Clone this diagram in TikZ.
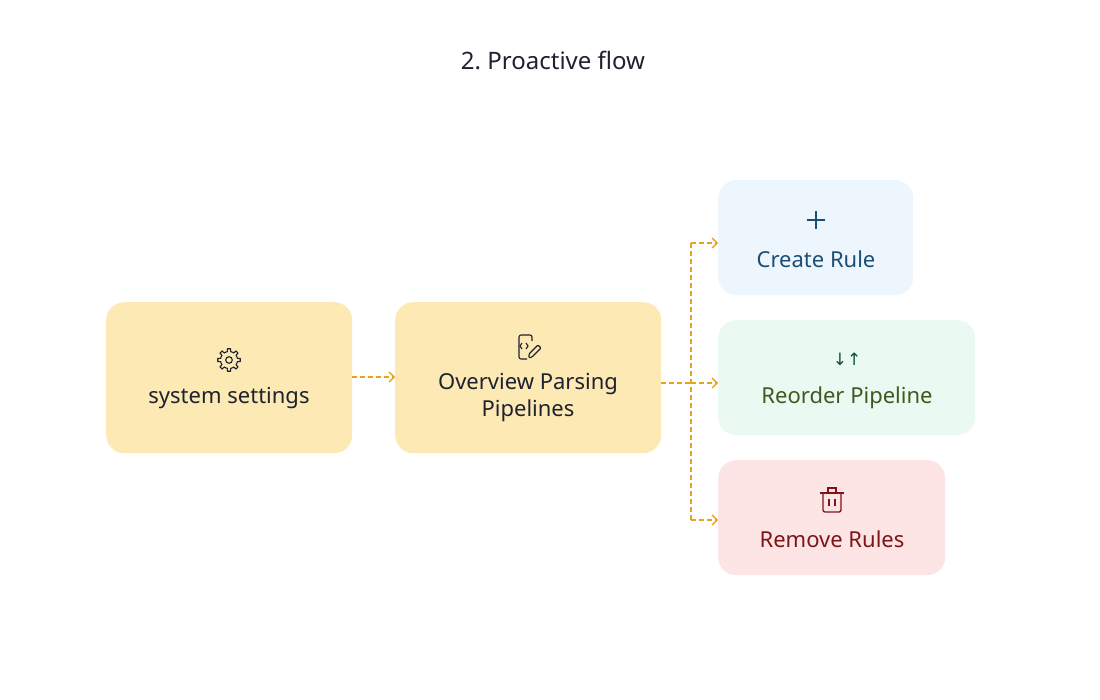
\documentclass[tikz,border=0pt]{standalone}
\usepackage{fontspec}
\setmainfont{Noto Sans}
\newfontfamily\symf{DejaVu Sans}
\usetikzlibrary{arrows.meta}
\definecolor{yel}{HTML}{FDE9B3}
\definecolor{bluef}{HTML}{EEF6FD}
\definecolor{bluet}{HTML}{1B4F72}
\definecolor{greenf}{HTML}{EAF9F1}
\definecolor{greent}{HTML}{3D5A1F}
\definecolor{greeni}{HTML}{0F5132}
\definecolor{redf}{HTML}{FDE4E5}
\definecolor{redt}{HTML}{7F1416}
\definecolor{org}{HTML}{E8A317}
\definecolor{ink}{HTML}{1E2230}
\begin{document}
\begin{tikzpicture}[x=1pt,y=-1pt,
  box/.style={rounded corners=18pt,inner sep=0pt,anchor=north west},
  lbl/.style={font=\fontsize{22}{27}\selectfont,align=center},
  conn/.style={org,dash pattern=on 5pt off 3pt,line width=1.3pt,-{Straight Barb[length=5pt,width=10pt]}},
  trunk/.style={org,dash pattern=on 5pt off 3pt,line width=1.3pt}]
\useasboundingbox (0,0) rectangle (1100,700);
\node[font=\bfseries\fontsize{24}{28}\selectfont,text=ink] (title) at (553,60) {2.\ Proactive flow};
% boxes
\node[box,fill=yel,minimum width=246pt,minimum height=151pt] (a) at (106,302) {};
\node[box,fill=yel,minimum width=266pt,minimum height=151pt] (b) at (395,302) {};
\node[box,fill=bluef,minimum width=195pt,minimum height=115pt] (c) at (718,180) {};
\node[box,fill=greenf,minimum width=257pt,minimum height=115pt] (d) at (718,320) {};
\node[box,fill=redf,minimum width=227pt,minimum height=115pt] (e) at (718,460) {};
% labels
\node[lbl,text=ink] (at) at (229,398) {system settings};
\node[lbl,text=ink] (bt) at (528,398) {Overview Parsing\\Pipelines};
\node[lbl,text=bluet] (ct) at (816,259) {Create Rule};
\node[lbl,text=greent] (dt) at (847,398) {Reorder Pipeline};
\node[lbl,text=redt] (et) at (832,539) {Remove Rules};
% gear icon
\begin{scope}[shift={(229,360)},ink,line width=1.1pt]
  \draw plot[samples=97,domain=0:360,variable=\t] ({(8.5+2.8*(cos(8*\t)>0.2))*cos(\t)},{(8.5+2.8*(cos(8*\t)>0.2))*sin(\t)}) -- cycle;
  \draw (0,0) circle (3.3);
\end{scope}
% document-code icon
\begin{scope}[shift={(528,347)},ink,line width=1.1pt]
  \draw[rounded corners=2pt] (4,-6) -- (4,-12) -- (-2,-12) -- (-9,-12) -- (-9,12) -- (-1,12);
  \draw[rounded corners=2pt] (4,-12) -- (4,-12);
  \draw (-6,-4) -- (-8,-1) -- (-6,2);
  \draw (-2,-4) -- (0,-1) -- (-2,2);
  \draw[rounded corners=1pt] (1,11) -- (1,7) -- (10,-2) -- (13,1) -- (4,10) -- cycle;
\end{scope}
% plus icon
\begin{scope}[shift={(816,220)},bluet,line width=1.4pt]
  \draw (-9,0) -- (9,0);
  \draw (0,-9) -- (0,9);
\end{scope}
% reorder icon
\node[font=\symf\fontsize{17}{17}\selectfont,text=greeni] (di) at (847,359) {↓↑};
% trash icon
\begin{scope}[shift={(832,500)},redt,line width=1.3pt]
  \draw (-12,-7) -- (12,-7);
  \draw (-4,-7) -- (-4,-12) -- (4,-12) -- (4,-7);
  \draw[rounded corners=2pt] (-9,-7) -- (-9,12) -- (9,12) -- (9,-7);
  \draw (-3,-1) -- (-3,6);
  \draw (3,-1) -- (3,6);
\end{scope}
% connectors
\coordinate (j) at (691,383);
\draw[conn] (a.east |- 0,377) -- (b.west |- 0,377);
\draw[trunk] (b.east |- j) -- (j);
\draw[trunk] (691,243) -- (691,520);
\draw[conn] (691,243) -- (c.west |- 0,243);
\draw[conn] (j) -- (d.west |- j);
\draw[conn] (691,520) -- (e.west |- 0,520);
\end{tikzpicture}
\end{document}
